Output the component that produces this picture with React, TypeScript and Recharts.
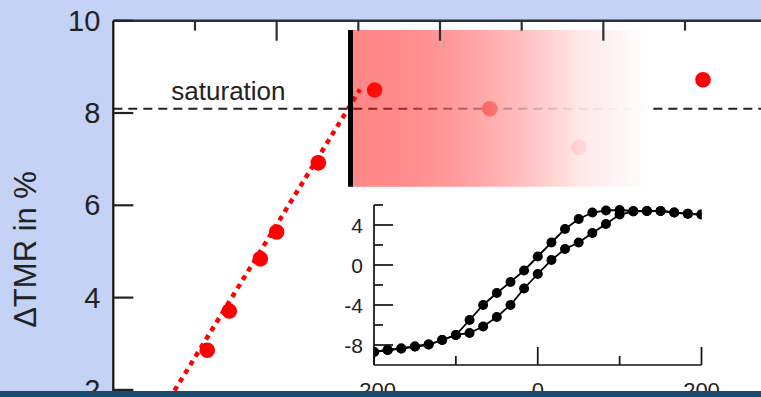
import React from 'react';
import {
  ComposedChart,
  LineChart,
  Line,
  Scatter,
  XAxis,
  YAxis,
  CartesianGrid,
  ReferenceLine,
  ReferenceArea,
  ReferenceDot,
} from 'recharts';

const FONT = '"Liberation Sans", Arial, Helvetica, sans-serif';

// ---------- main chart data ----------
const thicknessValues = [1.15, 1.42, 1.8, 2.0, 2.51, 3.2, 4.61, 5.7, 7.22];
const tmrValues = [2.86, 3.71, 4.84, 5.42, 6.92, 8.5, 8.09, 7.26, 8.72];
const fitLineX = [0.685, 3.02];
const fitLineY = [1.8, 8.51];
const saturationLevel = 8.09;
const mainYTicks = [2, 4, 6, 8, 10];
const mainRightTicks = [2, 4, 6, 8];
const mainTopTicks = [1, 2, 3, 4, 5, 6, 7];

// ---------- inset (hysteresis loop) data ----------
const fieldValues = [
  -200, -183.3, -166.7, -150, -133.3, -116.7, -100, -83.3, -66.7, -50, -33.3, -16.7, 0,
  16.7, 33.3, 50, 66.7, 83.3, 100, 116.7, 133.3, 150, 166.7, 183.3, 200,
];
const upperBranch = [
  -8.7, -8.5, -8.35, -8.15, -7.95, -7.5, -7.0, -5.5, -4.0, -2.8, -1.7, -0.55, 0.85,
  2.25, 3.6, 4.6, 5.25, 5.45, 5.5, 5.4, 5.4, 5.4, 5.25, 5.12, 5.05,
];
const lowerBranch = [
  -8.7, -8.5, -8.35, -8.15, -7.95, -7.5, -7.0, -6.8, -6.15, -5.2, -4.0, -2.35, -0.9,
  0.5, 1.6, 2.25, 3.2, 4.1, 5.05, 5.35, 5.4, 5.4, 5.25, 5.12, 5.05,
];
const insetXTicks = [-200, -100, 0, 100, 200];
const insetXLabels = [-200, 0, 200];
const insetYTicks = [-8, -6, -4, -2, 0, 2, 4, 6];
const insetYLabels = [-8, -4, 0, 4];

const mainPoints = thicknessValues.map((x, i) => ({ x, y: tmrValues[i] }));
const fitPoints = fitLineX.map((x, i) => ({ x, y: fitLineY[i] }));
const upperData = fieldValues.map((h, i) => ({ h, m: upperBranch[i] }));
const lowerData = fieldValues.map((h, i) => ({ h, m: lowerBranch[i] }));

const TEXT = '#222';

const TopTick = (props: any) => {
  const { x, y, payload } = props;
  const len = payload.value % 2 === 0 ? 20 : 10;
  return <line x1={x} y1={y} x2={x} y2={y + len} stroke="#2b2f3a" strokeWidth={2.2} />;
};

const LeftTick = (props: any) => {
  const { x, y, payload } = props;
  return (
    <g>
      <line x1={x} y1={y} x2={x + 20} y2={y} stroke="#222" strokeWidth={2.2} />
      <text
        x={x - 13}
        y={y}
        textAnchor="end"
        dominantBaseline="central"
        fontSize={29}
        fill={TEXT}
        fontFamily={FONT}
      >
        {payload.value}
      </text>
    </g>
  );
};

const RightTick = (props: any) => {
  const { x, y } = props;
  return <line x1={x} y1={y} x2={x - 19} y2={y} stroke="#222" strokeWidth={2.2} />;
};

const InsetXTick = (props: any) => {
  const { x, y, payload } = props;
  const v = payload.value;
  const major = v % 200 === 0;
  const len = major ? 18 : 9;
  return (
    <g>
      <line x1={x} y1={y} x2={x} y2={y - len} stroke="#111" strokeWidth={1.7} />
      {insetXLabels.includes(v) ? (
        <text x={x} y={y + 33} textAnchor="middle" fontSize={22} fill={TEXT} fontFamily={FONT}>
          {v}
        </text>
      ) : null}
    </g>
  );
};

const InsetYTick = (props: any) => {
  const { x, y, payload } = props;
  const v = payload.value;
  const major = v % 4 === 0;
  const len = major ? 19 : 9;
  return (
    <g>
      <line x1={x} y1={y} x2={x + len} y2={y} stroke="#111" strokeWidth={1.7} />
      {insetYLabels.includes(v) ? (
        <text
          x={x - 11}
          y={y}
          textAnchor="end"
          dominantBaseline="central"
          fontSize={21}
          fill={TEXT}
          fontFamily={FONT}
        >
          {v}
        </text>
      ) : null}
    </g>
  );
};

const YLabel = (props: any) => {
  const vb = props.viewBox || { x: 0, y: 0, width: 0, height: 0 };
  const cx = vb.x + 26;
  const cy = vb.y + vb.height / 2 - 2;
  return (
    <text
      x={cx}
      y={cy}
      transform={`rotate(-90 ${cx} ${cy})`}
      textAnchor="middle"
      dominantBaseline="central"
      fontSize={31}
      fill={TEXT}
      fontFamily={FONT}
    >
      ΔTMR in %
    </text>
  );
};

const RedDot = (props: any) => <circle cx={props.cx} cy={props.cy} r={7.8} fill="#ff0000" />;

export default function App() {
  return (
    <div
      style={{
        position: 'fixed',
        left: 0,
        top: 0,
        width: 761,
        height: 397,
        overflow: 'hidden',
        background: '#c3d2f5',
      }}
    >
      <div style={{ position: 'absolute', left: 0, top: 0 }}>
        <ComposedChart width={790} height={500} margin={{ top: 0, right: 0, bottom: 17.8, left: 0 }}>
          <defs>
            <linearGradient id="fadeGrad" x1="0" y1="0" x2="1" y2="0">
              <stop offset="0%" stopColor="rgb(255,0,0)" stopOpacity={0.47} />
              <stop offset="47%" stopColor="rgb(255,148,148)" stopOpacity={0.75} />
              <stop offset="76%" stopColor="rgb(255,230,230)" stopOpacity={0.92} />
              <stop offset="100%" stopColor="rgb(255,255,255)" stopOpacity={1} />
            </linearGradient>
          </defs>
          <CartesianGrid horizontal={false} vertical={false} fill="#ffffff" />
          <XAxis
            type="number"
            dataKey="x"
            orientation="top"
            domain={[0, 8]}
            ticks={mainTopTicks}
            interval={0}
            height={20.7}
            tickSize={0}
            tickMargin={0}
            tickLine={false}
            tick={<TopTick />}
            axisLine={{ stroke: '#2b2f3a', strokeWidth: 2.5 }}
            allowDataOverflow
          />
          <YAxis
            type="number"
            dataKey="y"
            domain={[0, 10]}
            ticks={mainYTicks}
            interval={0}
            width={113.3}
            tickSize={0}
            tickMargin={0}
            tickLine={false}
            tick={<LeftTick />}
            axisLine={{ stroke: '#111', strokeWidth: 2.2 }}
            label={{ content: <YLabel /> }}
            allowDataOverflow
          />
          <YAxis
            yAxisId="right"
            orientation="right"
            type="number"
            domain={[0, 10]}
            ticks={mainRightTicks}
            interval={0}
            width={23.3}
            tickSize={0}
            tickMargin={0}
            tickLine={false}
            tick={<RightTick />}
            axisLine={{ stroke: '#111', strokeWidth: 2.2 }}
          />
          <ReferenceLine
            y={saturationLevel}
            stroke="#222"
            strokeWidth={2}
            strokeDasharray="9 6"
          />
          <ReferenceDot
            x={1.41}
            y={8.48}
            r={0}
            fill="none"
            stroke="none"
            label={{ value: 'saturation', position: 'center', fontSize: 26, fill: TEXT, fontFamily: FONT }}
          />
          <Line
            data={fitPoints}
            dataKey="y"
            stroke="#ff0000"
            strokeWidth={4.5}
            strokeDasharray="5 5"
            dot={false}
            activeDot={false}
            isAnimationActive={false}
          />
          <Scatter data={mainPoints} dataKey="y" shape={<RedDot />} isAnimationActive={false} />
          <ReferenceArea
            x1={2.935}
            x2={6.57}
            y1={6.4}
            y2={9.8}
            fill="url(#fadeGrad)"
            fillOpacity={1}
            stroke="none"
            zIndex={1000}
          />
          <ReferenceArea
            x1={2.874}
            x2={2.935}
            y1={6.4}
            y2={9.8}
            fill="#000"
            fillOpacity={1}
            stroke="none"
            zIndex={1001}
          />
        </ComposedChart>
      </div>

      <div style={{ position: 'absolute', left: 300, top: 190 }}>
        <LineChart width={440} height={215} margin={{ top: 15, right: 38.5, bottom: 0, left: 0 }}>
          <XAxis
            type="number"
            dataKey="h"
            domain={[-200, 200]}
            ticks={insetXTicks}
            interval={0}
            height={40}
            tickSize={0}
            tickMargin={0}
            tickLine={false}
            tick={<InsetXTick />}
            axisLine={{ stroke: '#111', strokeWidth: 1.7 }}
            allowDataOverflow
          />
          <YAxis
            type="number"
            dataKey="m"
            domain={[-10, 6]}
            ticks={insetYTicks}
            interval={0}
            width={74}
            tickSize={0}
            tickMargin={0}
            tickLine={false}
            tick={<InsetYTick />}
            axisLine={{ stroke: '#111', strokeWidth: 1.7 }}
            allowDataOverflow
          />
          <Line
            data={lowerData}
            dataKey="m"
            stroke="#000"
            strokeWidth={1.8}
            dot={{ r: 5, fill: '#000', stroke: '#000', strokeWidth: 0 }}
            activeDot={false}
            isAnimationActive={false}
          />
          <Line
            data={upperData}
            dataKey="m"
            stroke="#000"
            strokeWidth={1.8}
            dot={{ r: 5, fill: '#000', stroke: '#000', strokeWidth: 0 }}
            activeDot={false}
            isAnimationActive={false}
          />
        </LineChart>
      </div>

      <div
        style={{
          position: 'absolute',
          left: 0,
          top: 391,
          width: 761,
          height: 6,
          background: '#1b4a6f',
        }}
      />
    </div>
  );
}
